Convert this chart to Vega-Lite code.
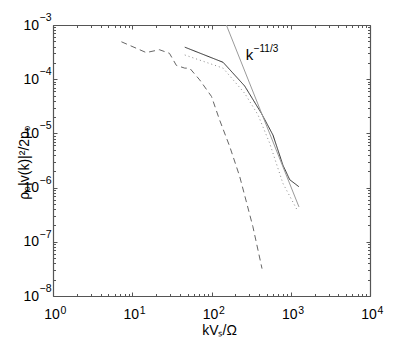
{
  "$schema": "https://vega.github.io/schema/vega-lite/v6.json",
  "width": 317,
  "height": 271,
  "autosize": "none",
  "padding": {"left": 53, "top": 25, "right": 38, "bottom": 50},
  "background": "white",
  "config": {
    "view": {"stroke": null},
    "font": "Liberation Sans",
    "axis": {
      "grid": false,
      "domainColor": "#555555",
      "domainWidth": 1.2,
      "tickColor": "#555555",
      "tickWidth": 1,
      "labels": false,
      "titleColor": "black",
      "titleFont": "Liberation Sans",
      "titleFontSize": 14,
      "titleFontWeight": "normal"
    },
    "text": {"font": "Liberation Sans", "color": "black"}
  },
  "datasets": {
    "curves": [
      {"k": 7.3, "E": 4.9e-4, "run": "c"},
      {"k": 15, "E": 3.1e-4, "run": "c"},
      {"k": 22, "E": 3.5e-4, "run": "c"},
      {"k": 29.5, "E": 3.0e-4, "run": "c"},
      {"k": 36, "E": 1.8e-4, "run": "c"},
      {"k": 46, "E": 1.6e-4, "run": "c"},
      {"k": 53, "E": 1.6e-4, "run": "c"},
      {"k": 71, "E": 9.7e-5, "run": "c"},
      {"k": 100, "E": 4.8e-5, "run": "c"},
      {"k": 126, "E": 1.8e-5, "run": "c"},
      {"k": 170, "E": 5.7e-6, "run": "c"},
      {"k": 227, "E": 1.6e-6, "run": "c"},
      {"k": 333, "E": 1.9e-7, "run": "c"},
      {"k": 434, "E": 3.2e-8, "run": "c"},
      {"k": 46, "E": 3.9e-4, "run": "a"},
      {"k": 140, "E": 2.05e-4, "run": "a"},
      {"k": 262, "E": 7.5e-5, "run": "a"},
      {"k": 426, "E": 2.35e-5, "run": "a"},
      {"k": 597, "E": 9.3e-6, "run": "a"},
      {"k": 796, "E": 2.6e-6, "run": "a"},
      {"k": 970, "E": 1.4e-6, "run": "a"},
      {"k": 1265, "E": 1.04e-6, "run": "a"},
      {"k": 46, "E": 2.8e-4, "run": "b"},
      {"k": 140, "E": 1.6e-4, "run": "b"},
      {"k": 262, "E": 5.5e-5, "run": "b"},
      {"k": 386, "E": 2.2e-5, "run": "b"},
      {"k": 542, "E": 6.6e-6, "run": "b"},
      {"k": 796, "E": 1.2e-6, "run": "b"},
      {"k": 1235, "E": 3.6e-7, "run": "b"}
    ],
    "slope": [
      {"k": 154, "E": 1e-3},
      {"k": 1270, "E": 4.4e-7}
    ],
    "note": [
      {"k": 270, "E": 2.26e-4}
    ],
    "xticks": [
      {"k": 1, "e": "0"},
      {"k": 10, "e": "1"},
      {"k": 100, "e": "2"},
      {"k": 1000, "e": "3"},
      {"k": 10000, "e": "4"}
    ],
    "yticks": [
      {"E": 1e-8, "e": "−8"},
      {"E": 1e-7, "e": "−7"},
      {"E": 1e-6, "e": "−6"},
      {"E": 1e-5, "e": "−5"},
      {"E": 1e-4, "e": "−4"},
      {"E": 1e-3, "e": "−3"}
    ]
  },
  "resolve": {"axis": {"x": "independent", "y": "independent"}},
  "layer": [
    {
      "data": {"name": "curves"},
      "mark": {"type": "line", "strokeWidth": 1, "clip": true},
      "encoding": {
        "x": {
          "field": "k", "type": "quantitative",
          "scale": {"type": "log", "domain": [1, 10000], "nice": false},
          "axis": {
            "title": "kVₛ/Ω",
            "titleX": 166, "titleY": 38, "titleBaseline": "alphabetic", "titleAlign": "center",
            "values": [1,2,3,4,5,6,7,8,9,10,20,30,40,50,60,70,80,90,100,200,300,400,500,600,700,800,900,1000,2000,3000,4000,5000,6000,7000,8000,9000,10000],
            "tickSize": {"condition": {"test": "abs(log(datum.value)/LN10 - round(log(datum.value)/LN10)) < 0.001", "value": -4}, "value": -2.5}
          }
        },
        "y": {
          "field": "E", "type": "quantitative",
          "scale": {"type": "log", "domain": [1e-8, 1e-3], "nice": false},
          "axis": {
            "title": "ρ₀|v(k)|²/2p₀",
            "titleX": -29, "titleY": 137, "titleBaseline": "middle", "titleAlign": "center", "titleAngle": -90,
            "values": [1e-8,2e-8,3e-8,4e-8,5e-8,6e-8,7e-8,8e-8,9e-8,1e-7,2e-7,3e-7,4e-7,5e-7,6e-7,7e-7,8e-7,9e-7,1e-6,2e-6,3e-6,4e-6,5e-6,6e-6,7e-6,8e-6,9e-6,1e-5,2e-5,3e-5,4e-5,5e-5,6e-5,7e-5,8e-5,9e-5,1e-4,2e-4,3e-4,4e-4,5e-4,6e-4,7e-4,8e-4,9e-4,1e-3],
            "tickSize": {"condition": {"test": "abs(log(datum.value)/LN10 - round(log(datum.value)/LN10)) < 0.001", "value": -4}, "value": -2.5}
          }
        },
        "color": {
          "field": "run", "type": "nominal",
          "scale": {"domain": ["a", "b", "c"], "range": ["#2a2a2a", "#8a8a8a", "#666666"]},
          "legend": null
        },
        "strokeDash": {
          "field": "run", "type": "nominal",
          "scale": {"domain": ["a", "b", "c"], "range": [[1, 0], [1, 3], [6, 4]]},
          "legend": null
        }
      }
    },
    {
      "data": {"name": "slope"},
      "mark": {"type": "line", "color": "#9a9a9a", "strokeWidth": 1, "clip": true},
      "encoding": {
        "x": {
          "field": "k", "type": "quantitative",
          "scale": {"type": "log", "domain": [1, 10000], "nice": false},
          "axis": {
            "orient": "top", "title": null,
            "values": [1,2,3,4,5,6,7,8,9,10,20,30,40,50,60,70,80,90,100,200,300,400,500,600,700,800,900,1000,2000,3000,4000,5000,6000,7000,8000,9000,10000],
            "tickSize": {"condition": {"test": "abs(log(datum.value)/LN10 - round(log(datum.value)/LN10)) < 0.001", "value": -4}, "value": -2.5}
          }
        },
        "y": {
          "field": "E", "type": "quantitative",
          "scale": {"type": "log", "domain": [1e-8, 1e-3], "nice": false},
          "axis": {
            "orient": "right", "title": null,
            "values": [1e-8,2e-8,3e-8,4e-8,5e-8,6e-8,7e-8,8e-8,9e-8,1e-7,2e-7,3e-7,4e-7,5e-7,6e-7,7e-7,8e-7,9e-7,1e-6,2e-6,3e-6,4e-6,5e-6,6e-6,7e-6,8e-6,9e-6,1e-5,2e-5,3e-5,4e-5,5e-5,6e-5,7e-5,8e-5,9e-5,1e-4,2e-4,3e-4,4e-4,5e-4,6e-4,7e-4,8e-4,9e-4,1e-3],
            "tickSize": {"condition": {"test": "abs(log(datum.value)/LN10 - round(log(datum.value)/LN10)) < 0.001", "value": -4}, "value": -2.5}
          }
        }
      }
    },
    {
      "data": {"name": "note"},
      "mark": {"type": "text", "text": "k", "fontSize": 15, "align": "left", "baseline": "alphabetic"},
      "encoding": {
        "x": {"field": "k", "type": "quantitative", "scale": {"type": "log", "domain": [1, 10000], "nice": false}, "axis": null},
        "y": {"field": "E", "type": "quantitative", "scale": {"type": "log", "domain": [1e-8, 1e-3], "nice": false}, "axis": null}
      }
    },
    {
      "data": {"name": "note"},
      "mark": {"type": "text", "text": "−11/3", "fontSize": 10, "align": "left", "baseline": "alphabetic", "dx": 8, "dy": -8},
      "encoding": {
        "x": {"field": "k", "type": "quantitative", "scale": {"type": "log", "domain": [1, 10000], "nice": false}, "axis": null},
        "y": {"field": "E", "type": "quantitative", "scale": {"type": "log", "domain": [1e-8, 1e-3], "nice": false}, "axis": null}
      }
    },
    {
      "data": {"name": "xticks"},
      "mark": {"type": "text", "text": "10", "fontSize": 14, "align": "center", "baseline": "alphabetic", "dx": -1, "dy": 23},
      "encoding": {
        "x": {"field": "k", "type": "quantitative", "scale": {"type": "log", "domain": [1, 10000], "nice": false}, "axis": null},
        "y": {"datum": 1e-8, "type": "quantitative", "scale": {"type": "log", "domain": [1e-8, 1e-3], "nice": false}, "axis": null}
      }
    },
    {
      "data": {"name": "xticks"},
      "mark": {"type": "text", "fontSize": 10.5, "align": "left", "baseline": "alphabetic", "dx": 7.5, "dy": 18},
      "encoding": {
        "text": {"field": "e"},
        "x": {"field": "k", "type": "quantitative", "scale": {"type": "log", "domain": [1, 10000], "nice": false}, "axis": null},
        "y": {"datum": 1e-8, "type": "quantitative", "scale": {"type": "log", "domain": [1e-8, 1e-3], "nice": false}, "axis": null}
      }
    },
    {
      "data": {"name": "yticks"},
      "mark": {"type": "text", "text": "10", "fontSize": 14, "align": "right", "baseline": "alphabetic", "dx": -14, "dy": 4.5},
      "encoding": {
        "x": {"datum": 1, "type": "quantitative", "scale": {"type": "log", "domain": [1, 10000], "nice": false}, "axis": null},
        "y": {"field": "E", "type": "quantitative", "scale": {"type": "log", "domain": [1e-8, 1e-3], "nice": false}, "axis": null}
      }
    },
    {
      "data": {"name": "yticks"},
      "mark": {"type": "text", "fontSize": 10.5, "align": "left", "baseline": "alphabetic", "dx": -13.5, "dy": -4},
      "encoding": {
        "text": {"field": "e"},
        "x": {"datum": 1, "type": "quantitative", "scale": {"type": "log", "domain": [1, 10000], "nice": false}, "axis": null},
        "y": {"field": "E", "type": "quantitative", "scale": {"type": "log", "domain": [1e-8, 1e-3], "nice": false}, "axis": null}
      }
    }
  ]
}
